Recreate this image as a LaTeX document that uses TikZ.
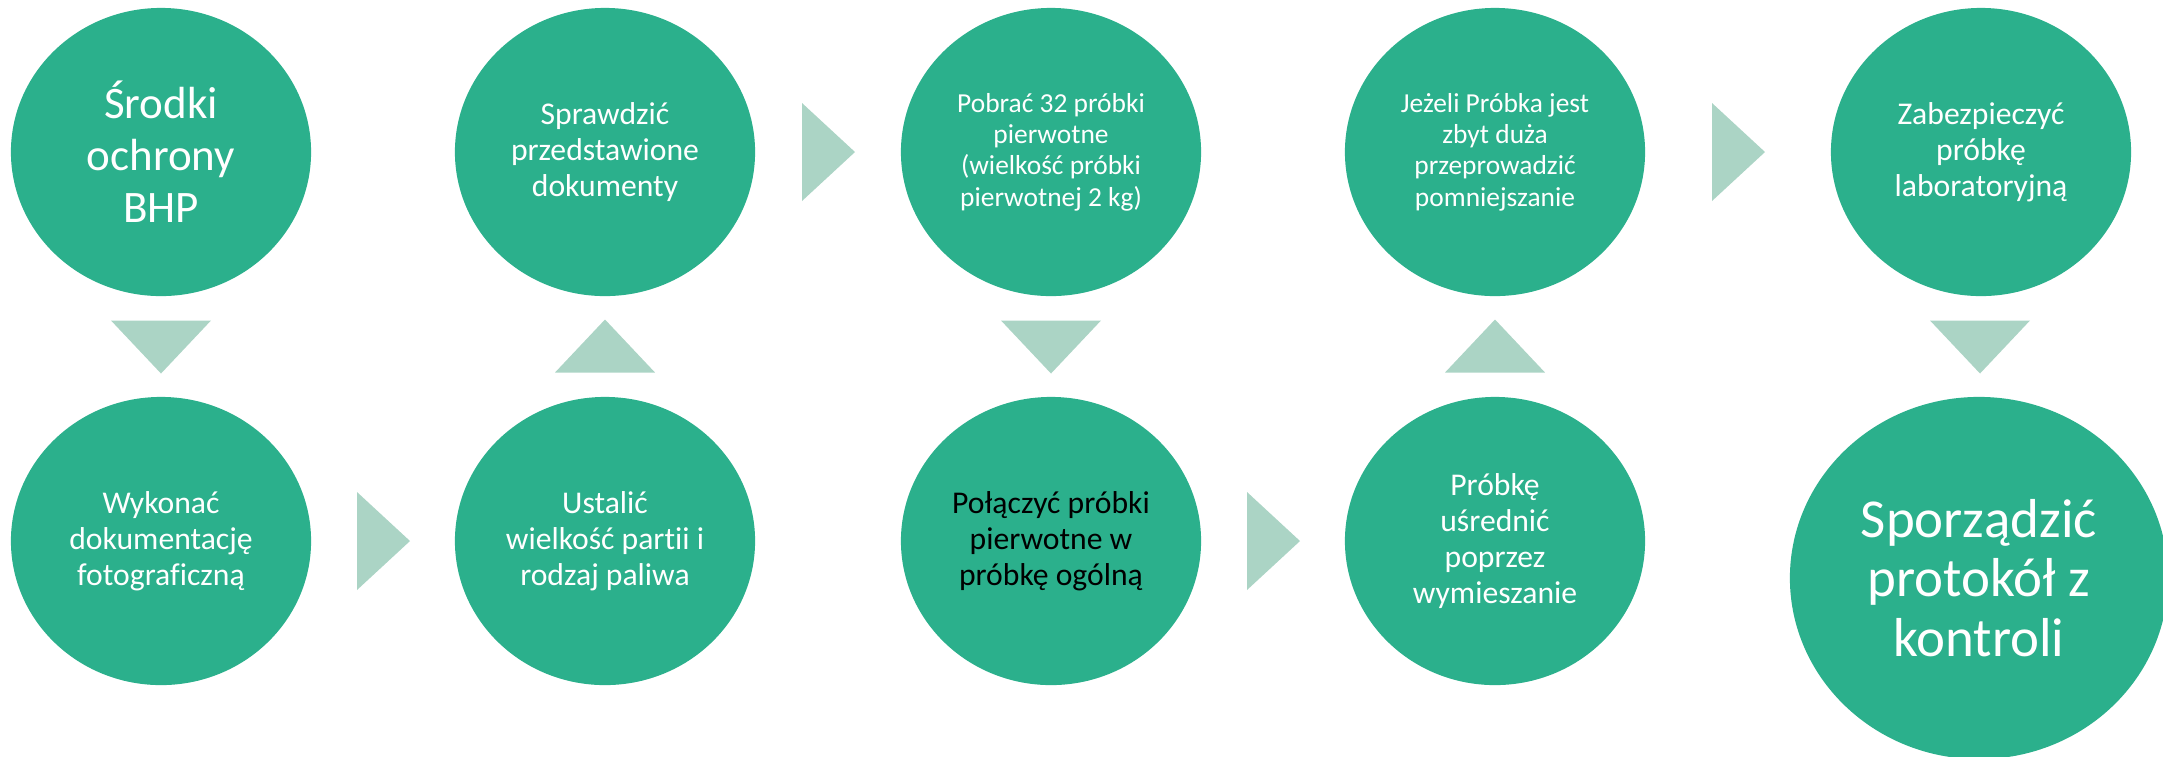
\documentclass[tikz,border=0pt]{standalone}
\usepackage{fontspec}
\setmainfont{Carlito}[Ligatures=NoCommon]
\usetikzlibrary{shapes.geometric,calc}
\definecolor{etapzielony}{RGB}{43,176,140}
\definecolor{grotjasny}{RGB}{171,212,197}

\begin{document}
\begin{tikzpicture}[
    x=0.01cm, y=-0.01cm,
    etap/.style={
        ellipse,
        fill=etapzielony,
        draw=none,
        inner sep=0pt,
        minimum width=3cm,
        minimum height=2.88cm,
        align=center,
        text=white,
        font=\fontsize{9}{10.3}\selectfont
    },
    drobny/.style={font=\fontsize{7.8}{8.9}\selectfont},
    grot/.style={fill=grotjasny, draw=none}
]
    \useasboundingbox (0,0) rectangle (2163,756);

    %------------------------------------------------
    % Etapy - górny rząd
    %------------------------------------------------
    \node[etap, font=\fontsize{12.8}{14.8}\selectfont] (k1) at (161,152) {Środki\\ ochrony\\ BHP};
    \node[etap] (k4) at (605,152) {Sprawdzić\\ przedstawione\\ dokumenty};
    \node[etap, drobny] (k5) at (1051,152) {Pobrać 32 próbki\\ pierwotne\\ (wielkość próbki\\ pierwotnej 2 kg)};
    \node[etap, drobny] (k8) at (1495,152) {Jeżeli Próbka jest\\ zbyt duża\\ przeprowadzić\\ pomniejszanie};
    \node[etap] (k9) at (1981,152) {Zabezpieczyć\\ próbkę\\ laboratoryjną};

    %------------------------------------------------
    % Etapy - dolny rząd
    %------------------------------------------------
    \node[etap] (k2) at (161,541) {Wykonać\\ dokumentację\\ fotograficzną};
    \node[etap] (k3) at (605,541) {Ustalić\\ wielkość partii i\\ rodzaj paliwa};
    \node[etap, text=black] (k6) at (1051,541) {Połączyć próbki\\ pierwotne w\\ próbkę ogólną};
    \node[etap] (k7) at (1495,541) {Próbkę\\ uśrednić\\ poprzez\\ wymieszanie};
    \node[etap, minimum width=3.78cm, minimum height=3.62cm,
          font=\fontsize{15.6}{17}\selectfont] (k10) at (1979,578) {Sporządzić\\ protokół z\\ kontroli};

    %------------------------------------------------
    % Groty między etapami
    %------------------------------------------------
    \coordinate (m1) at ($(k1.south)!0.5!(k2.north)$);
    \coordinate (m2) at ($(k2.east)!0.5!(k3.west)$);
    \coordinate (m3) at ($(k3.north)!0.5!(k4.south)$);
    \coordinate (m4) at ($(k4.east)!0.5!(k5.west)$);
    \coordinate (m5) at ($(k5.south)!0.5!(k6.north)$);
    \coordinate (m6) at ($(k6.east)!0.5!(k7.west)$);
    \coordinate (m7) at ($(k7.north)!0.5!(k8.south)$);
    \coordinate (m8) at ($(k8.east)!0.5!(k9.west)$);
    \coordinate (m9) at ($(k9.south)!0.5!(k10.north)$);

    % w dół
    \foreach \m in {m1,m5,m9}
        \fill[grot, shift={(\m)}] (-50,-26) -- (50,-26) -- (0,27) -- cycle;
    % w górę
    \foreach \m in {m3,m7}
        \fill[grot, shift={(\m)}] (-50,26) -- (50,26) -- (0,-27) -- cycle;
    % w prawo
    \foreach \m in {m2,m4,m6,m8}
        \fill[grot, shift={(\m)}] (-26,-49) -- (27,0) -- (-26,49) -- cycle;

\end{tikzpicture}
\end{document}
